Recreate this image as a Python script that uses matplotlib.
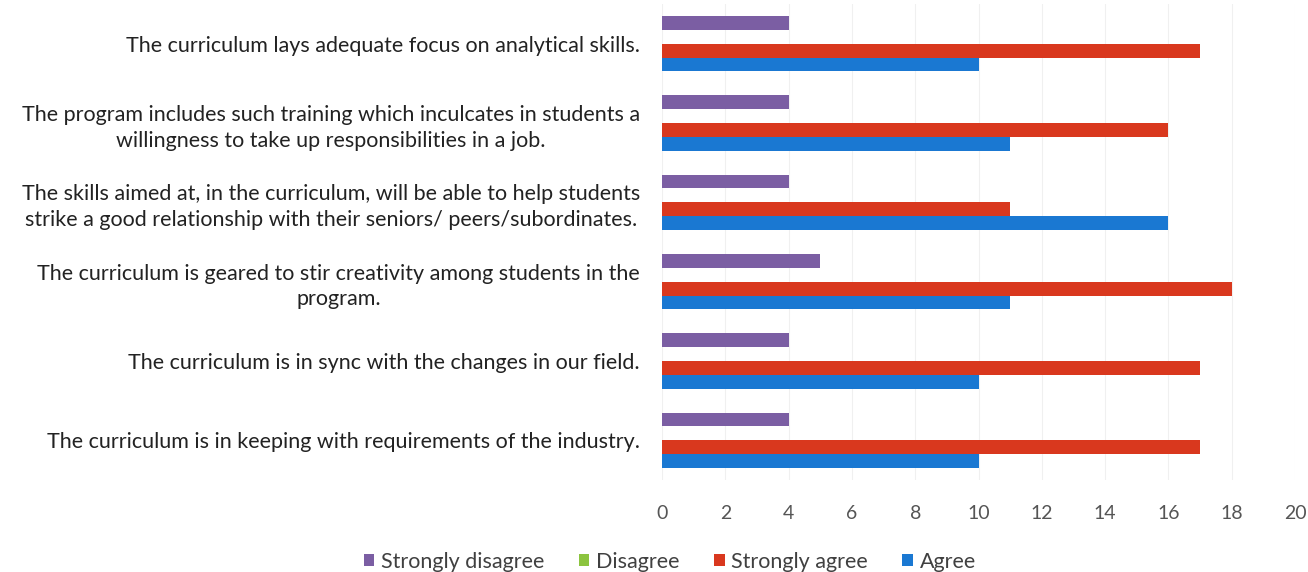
import numpy as np
import matplotlib
matplotlib.use("Agg")
import matplotlib.pyplot as plt

plt.rcParams["font.family"] = ["Lato", "DejaVu Sans"]

# statements, top to bottom as shown
statements = [
    "The curriculum lays adequate focus on analytical skills.",
    "The program includes such training which inculcates in students a\nwillingness to take up responsibilities in a job.",
    "The skills aimed at, in the curriculum, will be able to help students\nstrike a good relationship with their seniors/ peers/subordinates.",
    "The curriculum is geared to stir creativity among students in the\nprogram.",
    "The curriculum is in sync with the changes in our field.",
    "The curriculum is in keeping with requirements of the industry.",
]
series_names = ["Strongly disagree", "Disagree", "Strongly agree", "Agree"]
strongly_disagree = [4, 4, 4, 5, 4, 4]
disagree = [0, 0, 0, 0, 0, 0]
strongly_agree = [17, 16, 11, 18, 17, 17]
agree = [10, 11, 16, 11, 10, 10]

colors = ["#7b5ea3", "#8cc43f", "#d9381e", "#1a78d2"]
values = [strongly_disagree, disagree, strongly_agree, agree]

fig = plt.figure(figsize=(13.08, 5.72), dpi=100)
ax = fig.add_axes([662 / 1308, 1 - 480 / 572, (1295 - 662) / 1308, (480 - 4) / 572])

y = np.arange(len(statements))
h = 0.175
offsets = [-1.5 * h, -0.5 * h, 0.5 * h, 1.5 * h]
for vals, off, col, name in zip(values, offsets, colors, series_names):
    ax.barh(y + off, vals, height=h, color=col, label=name, zorder=2)

ax.set_xlim(0, 20)
ax.set_ylim(len(statements) - 0.5, -0.5)
ax.set_xticks(range(0, 21, 2))
ax.set_yticks(y)
ax.set_yticklabels(statements, multialignment="center", linespacing=1.35,
                   fontsize=15.5, color="#222222")
ax.tick_params(axis="x", labelsize=14, labelcolor="#555555", length=0, pad=18)
ax.tick_params(axis="y", length=0, pad=16)
ax.grid(axis="x", color="#f0f0f0", linewidth=0.8, zorder=0)
for s in ax.spines.values():
    s.set_visible(False)

fig.legend(loc="center", bbox_to_anchor=(0.512, 1 - 562 / 572), ncol=4, frameon=False,
           fontsize=15.5, handlelength=0.5, handleheight=0.5, handletextpad=0.3,
           columnspacing=1.6, labelcolor="#404040")

fig.savefig("out.png", dpi=100)
